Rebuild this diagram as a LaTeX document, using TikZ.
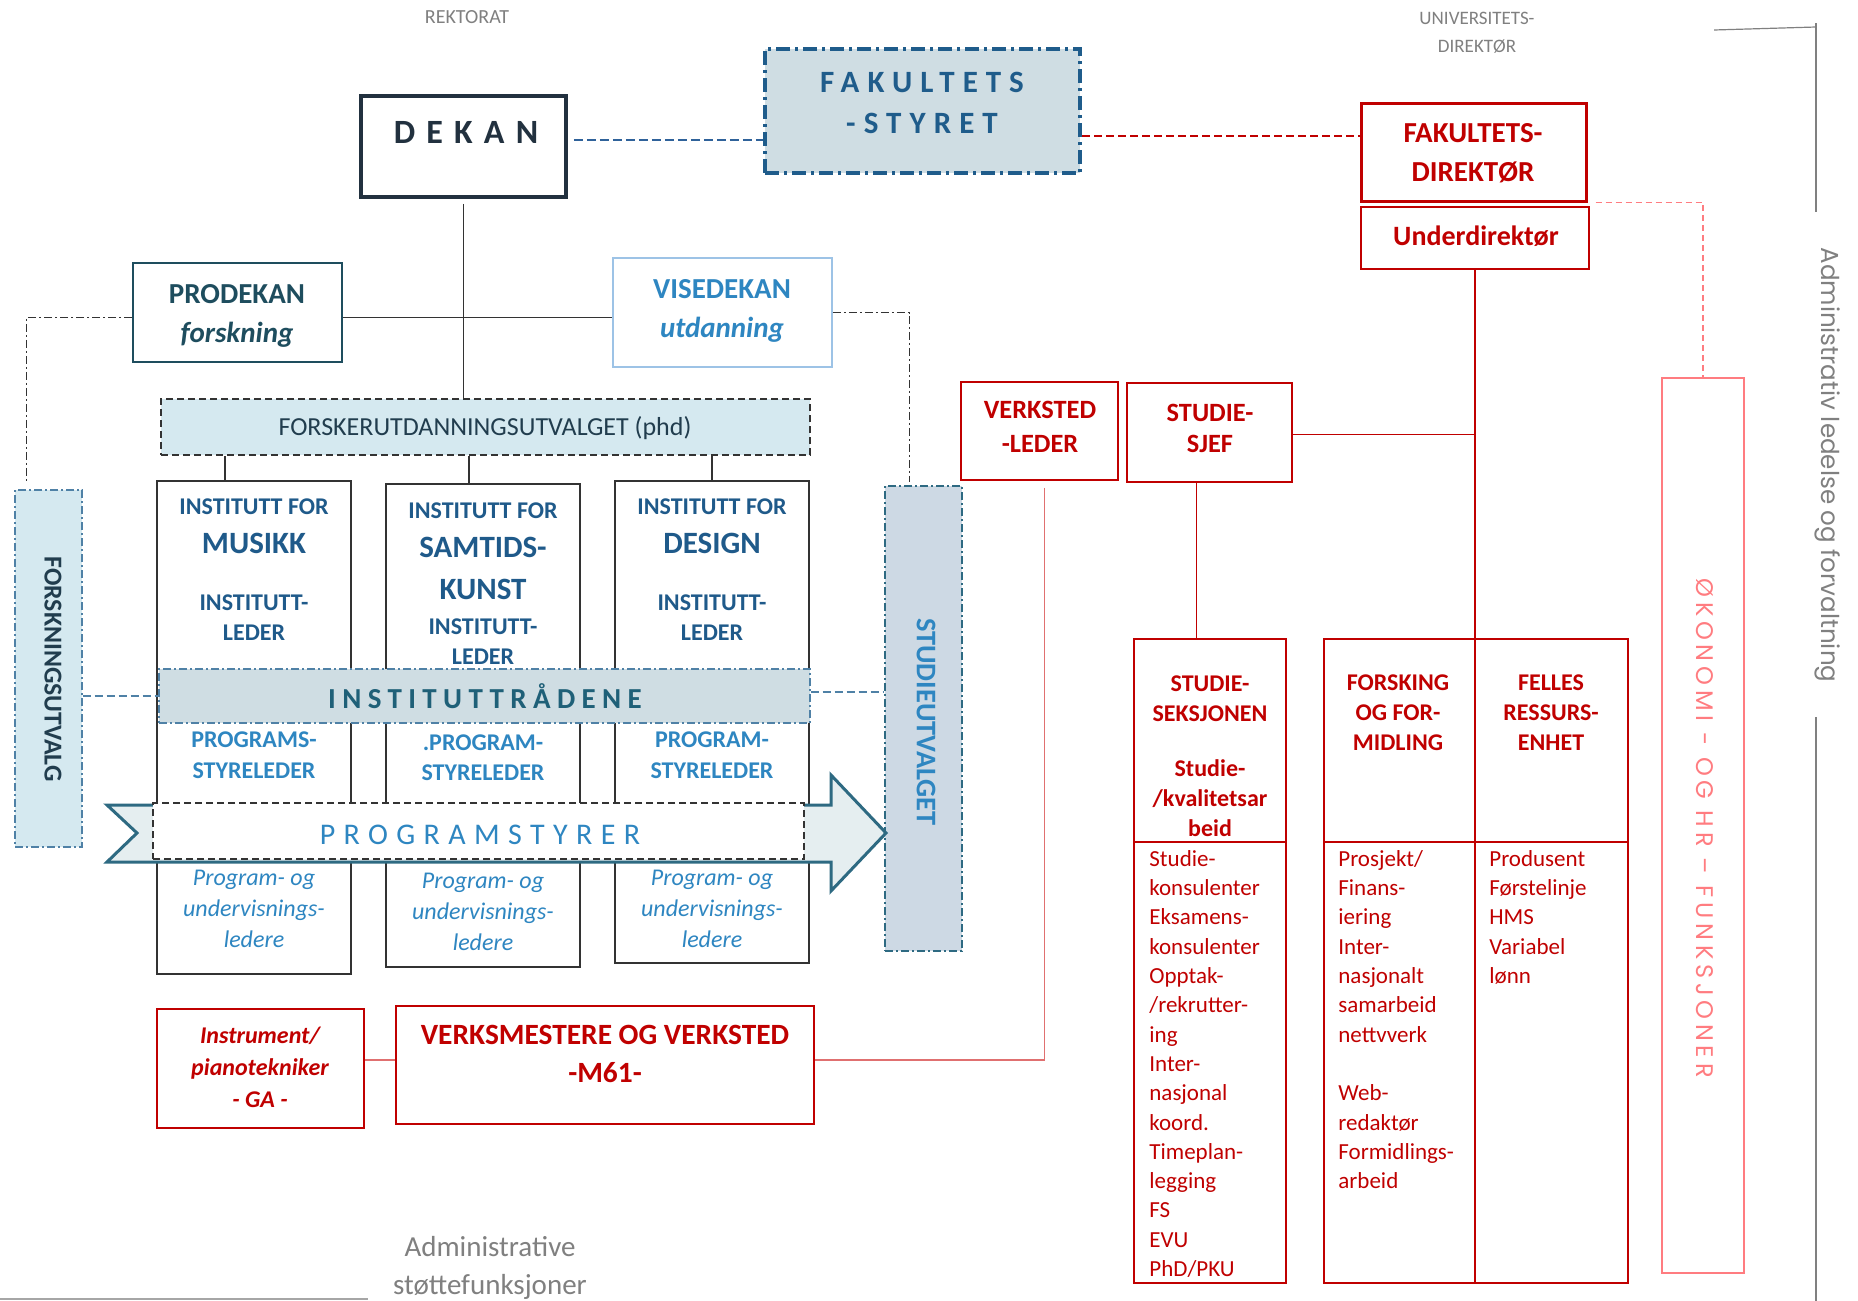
\documentclass[tikz,border=0pt]{standalone}
\usepackage{fontspec}
\setmainfont{Carlito}
\newfontfamily\gothic{Poppins}
\usetikzlibrary{fit}
\definecolor{navy}{HTML}{22313F}
\definecolor{fsblue}{HTML}{1F5C8B}
\definecolor{fsfill}{HTML}{CFDDE3}
\definecolor{tealdk}{HTML}{1E4D5E}
\definecolor{vblue}{HTML}{2E86C1}
\definecolor{vborder}{HTML}{9DC3E6}
\definecolor{instblue}{HTML}{1F5A8A}
\definecolor{lightfill}{HTML}{D5E9F0}
\definecolor{bandfill}{HTML}{CFDDE3}
\definecolor{bandtext}{HTML}{1F6078}
\definecolor{sufill}{HTML}{CDD9E4}
\definecolor{arrowfill}{HTML}{E5EEF0}
\definecolor{arrowdraw}{HTML}{2E6A82}
\definecolor{dashblue}{HTML}{4F81A6}
\definecolor{topdash}{HTML}{2F629A}
\definecolor{redc}{HTML}{C00000}
\definecolor{lred}{HTML}{E07070}
\definecolor{pinkc}{HTML}{FF7C80}
\definecolor{greyc}{HTML}{808080}
\definecolor{dkgrey}{HTML}{333333}
\definecolor{forsktext}{HTML}{213D4E}
\newcommand\fsz[2]{\fontsize{#1}{#2}\selectfont}
\begin{document}
\begin{tikzpicture}[x=0.5pt,y=-0.5pt,
  every node/.style={inner sep=0pt},
  bx/.style={draw, inner sep=0pt, rectangle},
  txt/.style={inner sep=0pt, align=center},
  dashdotline/.style={dash pattern=on 4pt off 1.5pt on 1pt off 1.5pt},
  bluedash/.style={draw=dashblue, line width=0.7pt, dash pattern=on 4pt off 2pt},
  reddash/.style={draw=redc, line width=0.7pt, dash pattern=on 4pt off 2pt},
  pinkdash/.style={draw=pinkc, line width=0.6pt, dash pattern=on 3pt off 2pt},
  redbox/.style={bx, draw=redc, line width=0.8pt},
  instbox/.style={bx, draw=dkgrey, line width=0.8pt},
]
\fill[white] (0,0) rectangle (1858,1301);
\useasboundingbox (0,0) rectangle (1858,1301);

% decorative frame lines
\draw[greyc, line width=0.6pt] (1714,30) -- (1816,27);
\draw[greyc, line width=0.6pt] (1816,23) -- (1816,212);
\draw[greyc, line width=0.6pt] (1816,717) -- (1816,1301);
\draw[greyc!70, line width=1pt] (0,1299) -- (368,1299);

% boxes
\node[bx, draw=navy, line width=1.75pt, fit={(361,96)(566,197)}] (dekan) {};
\node[bx, draw=fsblue, fill=fsfill, line width=2pt, dash pattern=on 7pt off 2.5pt on 1.5pt off 2.5pt, fit={(765,49)(1080,173)}] (fakstyret) {};
\node[bx, draw=redc, line width=1.5pt, fit={(1361,103)(1586,201)}] (fakdir) {};
\node[bx, draw=redc, line width=1.2pt, fit={(1361,207)(1589,269)}] (underdir) {};
\node[bx, draw=tealdk, line width=0.8pt, fit={(133,263)(342,362)}] (prodekan) {};
\node[bx, draw=vborder, line width=0.8pt, fit={(613,258)(832,367)}] (visedekan) {};
\node[bx, draw=dkgrey, fill=lightfill, line width=0.8pt, dash pattern=on 3.5pt off 2pt, fit={(161,399)(810,455)}] (forsk) {};
\node[instbox, fit={(157,481)(351,974)}] (musikk) {};
\node[instbox, fit={(386,484)(580,967)}] (samtids) {};
\node[instbox, fit={(615,481)(809,963)}] (design) {};
\node[bx, draw=dashblue, fill=bandfill, line width=0.6pt, dashdotline, fit={(159,669)(810,723)}] (band) {};
\node[bx, draw=dashblue, fill=lightfill, line width=0.6pt, dashdotline, fit={(15,490)(82,847)}] (forskutv) {};
\node[bx, draw=arrowdraw, fill=sufill, line width=0.6pt, dashdotline, fit={(885,486)(962,951)}] (studieutv) {};
\node[redbox, fit={(961,382)(1118,480)}] (verkstedleder) {};
\node[redbox, fit={(1127,383)(1292,482)}] (studiesjef) {};
\node[redbox, line width=1.25pt, fit={(1134,639)(1286,1283)}] (seksjon) {};
\node[redbox, line width=1.25pt, fit={(1324,639)(1475,1283)}] (forsking) {};
\node[redbox, line width=1.25pt, fit={(1475,639)(1628,1283)}] (felles) {};
\draw[redc, line width=1.25pt] (1134,842) -- (1286,842);
\draw[redc, line width=1.25pt] (1324,842) -- (1628,842);
\node[bx, draw=pinkc, line width=0.6pt, fit={(1662,378)(1744,1273)}] (okonomi) {};
\node[redbox, fit={(157,1009)(364,1128)}] (instrument) {};
\node[redbox, fit={(396,1006)(814,1124)}] (verksmestere) {};

% arrow
\filldraw[fill=arrowfill, draw=arrowdraw, line width=1.5pt]
  (107,805) -- (831,805) -- (831,775) -- (886,833) -- (831,891) -- (831,862) -- (107,862) -- (137,833) -- cycle;
\node[bx, draw=dkgrey, fill=white, line width=0.8pt, dash pattern=on 3.5pt off 2pt, fit={(153,803)(804,859)}] (progstyrer) {};

% connectors
\draw[draw=topdash, line width=1pt, dash pattern=on 4.5pt off 2pt] ([xshift=3pt,yshift=3.5pt]dekan.east) -- ([yshift=3.5pt]dekan.east -| fakstyret.west);
\draw[reddash] ([yshift=8pt]fakdir.west -| fakstyret.east) -- ([yshift=8pt]fakdir.west);
\draw[dkgrey, line width=0.6pt] ([yshift=-2.5pt]dekan.south) -- (dekan.south |- forsk.north);
\draw[dkgrey, line width=0.6pt] ([yshift=-2.5pt]prodekan.east) -- ([yshift=-2.5pt]prodekan.east -| visedekan.west);
\draw[dkgrey, line width=0.5pt, dashdotline] ([yshift=-2.5pt]prodekan.west) -| ([xshift=-11pt,yshift=4pt]forskutv.north);
\draw[dkgrey, line width=0.5pt, dashdotline] (visedekan.east) -| ([xshift=-7pt,yshift=1.5pt]studieutv.north);
\draw[dkgrey, line width=0.6pt] ([xshift=-14.5pt]musikk.north |- forsk.south) -- ([xshift=-14.5pt]musikk.north);
\draw[dkgrey, line width=0.6pt] ([xshift=-7pt]samtids.north |- forsk.south) -- ([xshift=-7pt]samtids.north);
\draw[dkgrey, line width=0.6pt] (design.north |- forsk.south) -- (design.north);
\draw[bluedash] (forskutv.east |- band.west) -- (band.west);
\draw[bluedash] ([yshift=2pt]band.east) -- ([yshift=2pt]band.east -| studieutv.west);
\draw[pinkdash] ([xshift=4pt]fakdir.south east) -| (okonomi.north);
\draw[redc, line width=0.8pt] (underdir.south) -- (underdir.south |- felles.north west);
\draw[redc, line width=0.8pt] ([yshift=-1pt]studiesjef.east) -- ([yshift=-1pt]studiesjef.east -| underdir.south);
\draw[redc, line width=0.8pt] ([xshift=-6.5pt]studiesjef.south) -- ([xshift=-6.5pt]studiesjef.south |- seksjon.north);
\draw[lred, line width=0.8pt] ([xshift=2.5pt,yshift=-3.5pt]verkstedleder.south) |- ([yshift=2.5pt]verksmestere.east);
\draw[lred, line width=0.8pt] ([yshift=2.5pt]instrument.east |- verksmestere.west) -- ([yshift=2.5pt]verksmestere.west);

% texts
\node[txt, font=\fsz{10}{12}, text=greyc] (rektT) at (467,17) {REKTORAT};
\node[txt, font=\fsz{9.5}{14}, text=greyc] (univT) at (1477,33) {UNIVERSITETS-\\DIREKTØR};
\node[txt, font=\fsz{17}{20}\bfseries\addfontfeatures{LetterSpace=33}, text=navy] (dekanT) at (466,132) {DEKAN};
\node[txt, font=\fsz{15.5}{20.5}\bfseries\addfontfeatures{LetterSpace=26}, text=fsblue] (fakT) at (922,103) {FAKULTETS\\-STYRET};
\node[txt, font=\fsz{14.5}{19.5}\bfseries, text=redc] (fakdirT) at (1473,153) {FAKULTETS-\\DIREKTØR};
\node[txt, font=\fsz{14}{17}\bfseries, text=redc] (underT) at (1476,236) {Underdirektør};
\node[txt, font=\fsz{14.5}{19.5}\bfseries, text=tealdk] (prodT) at (237,316) {PRODEKAN\\\textit{forskning}};
\node[txt, font=\fsz{14.5}{19.5}\bfseries, text=vblue] (viseT) at (722,311) {VISEDEKAN\\\textit{utdanning}};
\node[txt, font=\fsz{13}{15}, text=forsktext] (forskT) at (485,428) {FORSKERUTDANNINGSUTVALGET (phd)};

\node[txt, font=\fsz{12}{15}\bfseries, text=instblue] (m1) at (254,507) {INSTITUTT FOR};
\node[txt, font=\fsz{15.5}{21}\bfseries, text=instblue] (m2) at (254,543) {MUSIKK};
\node[txt, font=\fsz{12}{15}\bfseries, text=instblue] (m3) at (254,618) {INSTITUTT-\\LEDER};
\node[txt, font=\fsz{12}{15}\bfseries, text=instblue] (s1) at (483,511) {INSTITUTT FOR};
\node[txt, font=\fsz{15.5}{21}\bfseries, text=instblue] (s2) at (483,568) {SAMTIDS-\\KUNST};
\node[txt, font=\fsz{12}{15}\bfseries, text=instblue] (s3) at (483,642) {INSTITUTT-\\LEDER};
\node[txt, font=\fsz{12}{15}\bfseries, text=instblue] (d1) at (712,507) {INSTITUTT FOR};
\node[txt, font=\fsz{15.5}{21}\bfseries, text=instblue] (d2) at (712,543) {DESIGN};
\node[txt, font=\fsz{12}{15}\bfseries, text=instblue] (d3) at (712,618) {INSTITUTT-\\LEDER};

\node[txt, font=\fsz{12}{15.5}\bfseries, text=vblue] (mp) at (254,755.5) {PROGRAMS-\\STYRELEDER};
\node[txt, font=\fsz{12}{15}\bfseries, text=vblue] (sp) at (483,758) {.PROGRAM-\\STYRELEDER};
\node[txt, font=\fsz{12}{15.5}\bfseries, text=vblue] (dp) at (712,755.5) {PROGRAM-\\STYRELEDER};

\node[txt, font=\fsz{14.5}{17}\bfseries\addfontfeatures{LetterSpace=22}, text=bandtext] (bandT) at (485,696) {INSTITUTTRÅDENE};
\node[txt, font=\fsz{15}{17}\addfontfeatures{LetterSpace=28}, text=vblue] (progT) at (480,835) {PROGRAMSTYRER};

\node[txt, font=\fsz{12}{15.5}\itshape, text=vblue] (mu) at (254,909) {Program- og\\undervisnings-\\ledere};
\node[txt, font=\fsz{12}{15.5}\itshape, text=vblue] (su) at (483,912) {Program- og\\undervisnings-\\ledere};
\node[txt, font=\fsz{12}{15.5}\itshape, text=vblue] (du) at (712,909) {Program- og\\undervisnings-\\ledere};

\node[txt, font=\fsz{12}{16}\bfseries\itshape, text=redc] (instrT) at (260,1067) {Instrument/\\pianotekniker\\- GA -};
\node[txt, font=\fsz{14.7}{19}\bfseries, text=redc] (verksT) at (605,1054) {VERKSMESTERE OG VERKSTED\\-M61-};
\node[txt, font=\fsz{14.5}{19}, text=greyc] (admstT) at (490,1268) {Administrative\\støttefunksjoner};

\node[txt, font=\fsz{13.2}{17}\bfseries, text=redc] (vlT) at (1040,427) {VERKSTED\\-LEDER};
\node[txt, font=\fsz{13.2}{15.5}\bfseries, text=redc] (ssT) at (1210,428) {STUDIE-\\SJEF};
\node[txt, font=\fsz{12}{15}\bfseries, text=redc] (seksT) at (1210,756) {STUDIE-\\SEKSJONEN\\[12.5pt]Studie-\\/kvalitetsar\\beid};
\node[txt, font=\fsz{12}{15}\bfseries, text=redc] (forskingT) at (1398,713) {FORSKING\\OG FOR-\\MIDLING};
\node[txt, font=\fsz{12}{15}\bfseries, text=redc] (fellesT) at (1551,713) {FELLES\\RESSURS-\\ENHET};

\node[anchor=north west, align=left, font=\fsz{11.5}{14.65}, text=redc] (seksB) at (1149,850)
 {Studie-\\konsulenter\\Eksamens-\\konsulenter\\Opptak-\\/rekrutter-\\ing\\Inter-\\nasjonal\\koord.\\Timeplan-\\legging\\FS\\EVU\\PhD/PKU};
\node[anchor=north west, align=left, font=\fsz{11.5}{14.65}, text=redc] (forskB) at (1338,850)
 {Prosjekt/\\Finans-\\iering\\Inter-\\nasjonalt\\samarbeid\\nettvverk\\[14.65pt]Web-\\redaktør\\Formidlings-\\arbeid};
\node[anchor=north west, align=left, font=\fsz{11.5}{14.65}, text=redc] (fellesB) at (1489,850)
 {Produsent\\Førstelinje\\HMS\\Variabel\\lønn};

\node[txt, rotate=-90, font=\fsz{12.9}{15}\bfseries, text=forsktext] (forskutvT) at (53,669) {FORSKNINGSUTVALG};
\node[txt, rotate=-90, font=\fsz{14.2}{15}\bfseries, text=vblue] (studieutvT) at (926,722) {STUDIEUTVALGET};
\node[txt, rotate=-90, font=\gothic\fsz{12.3}{15}, text=greyc] (admT) at (1828,465) {Administrativ ledelse og forvaltning};
\node[txt, rotate=-90, font=\gothic\fsz{12}{15}\addfontfeatures{LetterSpace=20}, text=pinkc] (okoT) at (1705,828) {ØKONOMI - OG HR – FUNKSJONER};
\end{tikzpicture}
\end{document}
